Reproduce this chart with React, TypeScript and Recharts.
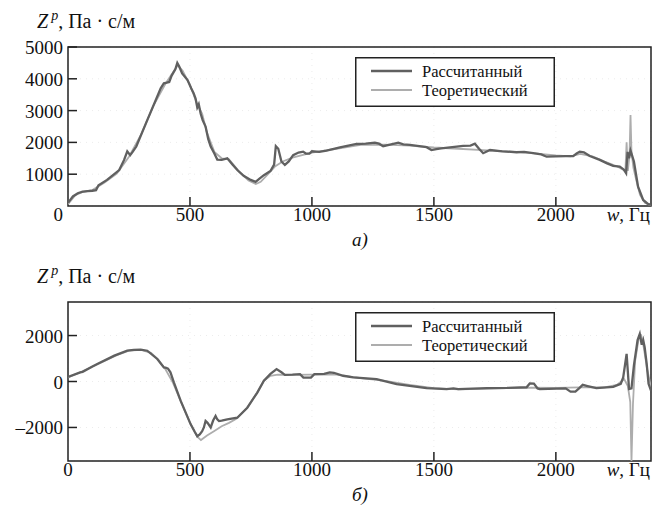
import React from 'react';
import { LineChart, Line, XAxis, YAxis, ReferenceArea, Legend, CartesianGrid } from 'recharts';

const FONT = '"Liberation Serif", "Times New Roman", serif';

// ---------- labels ----------
const seriesNames = ['Рассчитанный', 'Теоретический'];
const yLabelMain = ', Па · с/м';
const xLabelText = ', Гц';
const panelLabels = ['а)', 'б)'];

// ---------- axes ----------
const xTicks = [0, 500, 1000, 1500, 2000];
const xDomain = [0, 2390];
const topYTicks = [1000, 2000, 3000, 4000, 5000];
const topYDomain = [0, 5000];
const botYTicks = [-2000, 0, 2000];
const botYDomain = [-3460, 3460];

// ---------- panel a: calculated ----------
const topCalcW = [0, 10, 20, 40, 60, 80, 100, 115, 125, 160, 210, 230, 243, 255, 265, 280, 325, 380, 393, 405, 415, 425, 440, 448, 455, 468, 490, 505, 515, 523, 530, 536, 544, 552, 564, 575, 585, 600, 612, 630, 653, 675, 694, 720, 749, 769, 785, 803, 830, 845, 852, 862, 875, 889, 905, 923, 945, 964, 975, 990, 1000, 1030, 1060, 1115, 1183, 1220, 1258, 1275, 1292, 1320, 1354, 1375, 1402, 1440, 1470, 1490, 1510, 1530, 1566, 1620, 1650, 1668, 1685, 1702, 1730, 1780, 1839, 1870, 1907, 1940, 1962, 2000, 2040, 2071, 2085, 2098, 2115, 2139, 2180, 2210, 2235, 2262, 2278, 2288, 2294, 2300, 2306, 2312, 2320, 2337, 2358, 2375, 2390];
const topCalcZ = [100, 200, 300, 400, 450, 470, 480, 500, 650, 820, 1130, 1450, 1720, 1600, 1700, 1870, 2700, 3700, 3860, 3880, 3900, 4100, 4300, 4500, 4400, 4170, 3960, 3700, 3550, 3380, 3100, 3200, 2900, 2700, 2500, 2100, 1870, 1650, 1460, 1450, 1500, 1300, 1130, 950, 820, 760, 860, 970, 1100, 1300, 1880, 1800, 1400, 1290, 1400, 1600, 1680, 1710, 1650, 1650, 1720, 1700, 1740, 1845, 1950, 1960, 1990, 1960, 1880, 1930, 1990, 1940, 1920, 1880, 1850, 1760, 1790, 1810, 1845, 1890, 1900, 1960, 1800, 1660, 1760, 1720, 1690, 1700, 1660, 1620, 1550, 1560, 1570, 1570, 1650, 1710, 1690, 1570, 1450, 1340, 1260, 1240, 1150, 1030, 1700, 1500, 1740, 1600, 1400, 610, 190, 80, 30];

// ---------- panel a: theoretical ----------
const topTheoW = [0, 30, 60, 100, 150, 200, 250, 300, 350, 400, 430, 450, 470, 500, 530, 550, 570, 600, 630, 660, 700, 740, 770, 790, 820, 850, 880, 920, 960, 1000, 1100, 1200, 1300, 1400, 1500, 1600, 1700, 1800, 1900, 2000, 2060, 2100, 2150, 2200, 2250, 2285, 2290, 2295, 2302, 2306, 2310, 2318, 2330, 2345, 2365, 2390];
const topTheoZ = [60, 340, 440, 500, 740, 1020, 1550, 2250, 3150, 3850, 4200, 4430, 4250, 3800, 3200, 2900, 2300, 1700, 1500, 1470, 1100, 800, 690, 760, 1000, 1250, 1400, 1520, 1600, 1680, 1800, 1920, 1930, 1900, 1840, 1800, 1760, 1720, 1660, 1590, 1560, 1640, 1560, 1400, 1250, 1100, 2000, 1100, 1600, 2860, 1700, 1200, 800, 350, 100, 20];

// ---------- panel b: calculated ----------
const botCalcW = [0, 50, 60, 100, 120, 190, 243, 270, 298, 325, 366, 393, 400, 410, 420, 434, 462, 503, 520, 530, 540, 550, 557, 564, 572, 585, 595, 605, 612, 619, 630, 653, 694, 735, 776, 803, 830, 855, 875, 889, 920, 951, 965, 996, 1010, 1050, 1073, 1090, 1128, 1169, 1265, 1347, 1470, 1552, 1580, 1600, 1716, 1800, 1880, 1893, 1910, 1925, 1934, 2040, 2060, 2080, 2095, 2110, 2130, 2166, 2235, 2266, 2276, 2290, 2300, 2310, 2320, 2335, 2344, 2352, 2358, 2364, 2372, 2380, 2390];
const botCalcZ = [200, 400, 420, 650, 760, 1125, 1340, 1380, 1390, 1340, 980, 610, 600, 560, 400, -40, -845, -1865, -2200, -2380, -2300, -2160, -2000, -1720, -1800, -2000, -1700, -1500, -1650, -1720, -1700, -1645, -1575, -1140, -480, 30, 330, 540, 400, 290, 300, 320, 170, 170, 320, 330, 400, 380, 250, 175, 105, -115, -290, -330, -300, -330, -290, -280, -250, -85, -90, -300, -330, -300, -440, -440, -300, -145, -200, -290, -230, -100, 175, 1200, -330, -300, 700, 1800, 2070, 1600, 1800, 1490, 800, -100, -400];

// ---------- panel b: theoretical ----------
const botTheoW = [0, 50, 100, 150, 200, 250, 300, 340, 370, 400, 430, 460, 500, 530, 545, 570, 600, 630, 660, 690, 735, 776, 803, 830, 860, 900, 1000, 1100, 1200, 1300, 1400, 1500, 1600, 1700, 1800, 1900, 2000, 2100, 2200, 2250, 2280, 2295, 2305, 2310, 2316, 2325, 2340, 2350, 2360, 2375, 2390];
const botTheoZ = [180, 400, 640, 900, 1150, 1340, 1380, 1250, 950, 520, -50, -800, -1800, -2400, -2550, -2350, -2150, -1950, -1800, -1620, -1140, -480, 30, 250, 300, 290, 300, 300, 150, 30, -150, -290, -340, -320, -290, -270, -280, -260, -260, -150, 100, -200, -900, -3460, -1000, 900, 1900, 2000, 1500, 500, -250];

const zip = (w: number[], z: number[]) => w.map((v, i) => ({ w: v, z: z[i] }));

const DARK = '#606060';
const LIGHT = '#adadad';
const AXIS = '#222';

const XTick = (props: any) => {
  const { x, y, payload, zeroAnchorEnd } = props;
  const v = payload.value;
  const isZero = v === 0;
  return (
    <g>
      {!isZero && <line x1={x} y1={y} x2={x} y2={y - 9} stroke={AXIS} strokeWidth={1.5} />}
      <text
        x={isZero && zeroAnchorEnd ? x - 5 : x}
        y={y + 15}
        textAnchor={isZero && zeroAnchorEnd ? 'end' : 'middle'}
        fontFamily={FONT}
        fontSize={19}
        fill="#111"
      >
        {String(v)}
      </text>
    </g>
  );
};

const YTick = (props: any) => {
  const { x, y, payload } = props;
  const v = payload.value;
  const label = v < 0 ? '\u2013' + String(Math.abs(v)) : String(v);
  return (
    <g>
      <line x1={x} y1={y} x2={x + 9} y2={y} stroke={AXIS} strokeWidth={1.5} />
      <text x={x - 5} y={y + 7} textAnchor="end" fontFamily={FONT} fontSize={19} fill="#111">
        {label}
      </text>
    </g>
  );
};

const LegendBox = (props: any) => {
  const payload = props.payload || [];
  const items = seriesNames.map((n) => {
    const p = payload.find((q: any) => q.value === n);
    return { name: n, color: p ? p.color : '#888', width: n === seriesNames[0] ? 2.4 : 1.8 };
  });
  return (
    <svg width={200} height={50} style={{ display: 'block' }}>
      <rect x={0.75} y={0.75} width={198.5} height={48.5} fill="#fff" stroke={AXIS} strokeWidth={1.5} />
      {items.map((it, i) => (
        <g key={it.name}>
          <line x1={16} x2={57} y1={14 + i * 19} y2={14 + i * 19} stroke={it.color} strokeWidth={it.width} />
          <text x={67} y={19.5 + i * 19} fontFamily={FONT} fontSize={16.5} fill="#111">
            {it.name}
          </text>
        </g>
      ))}
    </svg>
  );
};

const Panel = (p: {
  calc: { w: number; z: number }[];
  theo: { w: number; z: number }[];
  yDomain: number[];
  yTicks: number[];
  zeroAnchorEnd: boolean;
}) => (
  <LineChart width={652} height={236} margin={{ top: 47, right: 1, left: 0, bottom: 0 }}>
    <CartesianGrid stroke="#ececec" strokeDasharray="1 5" />
    <XAxis
      type="number"
      dataKey="w"
      domain={xDomain}
      ticks={xTicks}
      interval={0}
      allowDataOverflow
      height={30}
      axisLine={false}
      tickLine={false}
      tickSize={0}
      tickMargin={0}
      tick={<XTick zeroAnchorEnd={p.zeroAnchorEnd} />}
    />
    <YAxis
      type="number"
      dataKey="z"
      domain={p.yDomain}
      ticks={p.yTicks}
      interval={0}
      allowDataOverflow
      width={68}
      axisLine={false}
      tickLine={false}
      tickSize={0}
      tickMargin={0}
      tick={<YTick />}
    />
    <ReferenceArea
      x1={xDomain[0]}
      x2={xDomain[1]}
      y1={p.yDomain[0]}
      y2={p.yDomain[1]}
      fill="none"
      stroke={AXIS}
      strokeWidth={1.5}
      ifOverflow="visible"
    />
    <Line
      data={p.theo}
      dataKey="z"
      name={seriesNames[1]}
      stroke={LIGHT}
      strokeWidth={1.8}
      dot={false}
      type="linear"
      isAnimationActive={false}
    />
    <Line
      data={p.calc}
      dataKey="z"
      name={seriesNames[0]}
      stroke={DARK}
      strokeWidth={2.3}
      dot={false}
      type="linear"
      isAnimationActive={false}
    />
    <Legend
      layout="vertical"
      align="center"
      verticalAlign="middle"
      content={<LegendBox />}
      wrapperStyle={{ left: 355, top: 57, width: 200, height: 50 }}
    />
  </LineChart>
);

const Texts = (p: { panel: string }) => (
  <svg width={652} height={256} style={{ position: 'absolute', left: 0, top: 0, pointerEvents: 'none' }}>
    <text x={37} y={28} fontFamily={FONT} fontSize={20} fill="#111">
      <tspan fontStyle="italic">Z</tspan>
      <tspan fontStyle="italic" fontSize={14} dy={-8} dx={3}>p</tspan>
      <tspan dy={8}>{yLabelMain}</tspan>
    </text>
    <text x={650} y={221} textAnchor="end" fontFamily={FONT} fontSize={19} fill="#111">
      <tspan fontStyle="italic">w</tspan>
      <tspan>{xLabelText}</tspan>
    </text>
    <text x={352} y={246} fontFamily={FONT} fontSize={19} fontStyle="italic" fill="#111">
      {p.panel}
    </text>
  </svg>
);

export default function App() {
  const topCalc = zip(topCalcW, topCalcZ);
  const topTheo = zip(topTheoW, topTheoZ);
  const botCalc = zip(botCalcW, botCalcZ);
  const botTheo = zip(botTheoW, botTheoZ);
  return (
    <div style={{ position: 'absolute', left: 0, top: 0, width: 652, height: 512, background: '#fff' }}>
      <div style={{ position: 'absolute', left: 0, top: 0, width: 652, height: 256 }}>
        <Panel calc={topCalc} theo={topTheo} yDomain={topYDomain} yTicks={topYTicks} zeroAnchorEnd={true} />
        <Texts panel={panelLabels[0]} />
      </div>
      <div style={{ position: 'absolute', left: 0, top: 255, width: 652, height: 256 }}>
        <Panel calc={botCalc} theo={botTheo} yDomain={botYDomain} yTicks={botYTicks} zeroAnchorEnd={false} />
        <Texts panel={panelLabels[1]} />
      </div>
    </div>
  );
}
